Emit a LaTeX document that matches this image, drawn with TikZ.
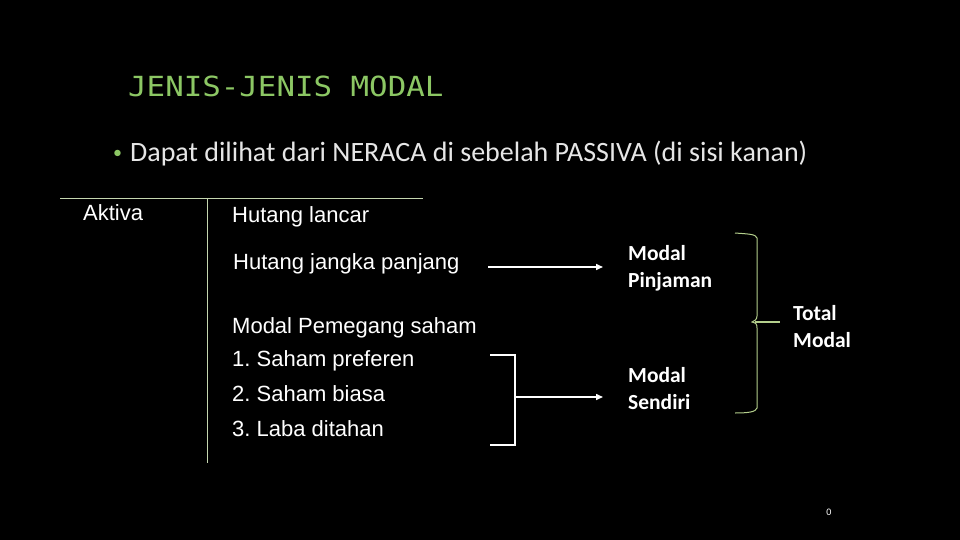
\documentclass[tikz,border=0pt]{standalone}
\usepackage{fontspec}
\setmainfont{Liberation Sans}
\newfontfamily\monof{DejaVu Sans Mono}
\newfontfamily\calf{Carlito}
\usetikzlibrary{arrows.meta}
\definecolor{titlegreen}{HTML}{8CC764}
\definecolor{linegreen}{HTML}{C5D6B0}
\definecolor{bracegreen}{HTML}{B4CF8C}
\definecolor{bodytext}{HTML}{E6E6E6}
\tikzset{
  lbl/.style={anchor=base west, inner sep=0pt, text=white, font=\fontsize{22}{26}\selectfont},
  cal/.style={anchor=base west, inner sep=0pt, text=white, font=\calf\bfseries\fontsize{21.5}{27}\selectfont, align=left},
  conn/.style={draw=white, line width=1.5pt, -{Triangle[length=7pt,width=6pt]}},
  frame/.style={draw=linegreen, line width=0.9pt},
  bracket/.style={draw=white, line width=1.2pt},
}
\frenchspacing
\begin{document}
\begin{tikzpicture}[x=1pt,y=-1pt]
\fill[black] (0,0) rectangle (960,540);
\useasboundingbox (0,0) rectangle (960,540);
% title
\node[anchor=base west, inner sep=0pt, text=titlegreen, font=\monof\fontsize{30.8}{32}\selectfont] (title) at (128,97) {\scalebox{1}[0.9]{JENIS-JENIS MODAL}};
% bullet
\node[anchor=base west, inner sep=0pt, text=bodytext, font=\calf\fontsize{28}{32}\selectfont] (bullet) at (113,161) {\textcolor{titlegreen}{\raisebox{2pt}{\fontsize{18}{18}\selectfont\textbullet}}\hspace{8pt}Dapat dilihat dari NERACA di sebelah PASSIVA (di sisi kanan)};
% T frame
\coordinate (hl) at (60,198);
\coordinate (hr) at (423,198);
\coordinate (vt) at (207,198);
\coordinate (vb) at (207,463);
\draw[frame] (hl) -- (hr);
\draw[frame] (vt) -- (vb);
% left and right column labels
\node[lbl] (aktiva) at (83,220) {Aktiva};
\node[lbl] (hl1) at (232,222) {Hutang lancar};
\node[lbl] (hjp) at (233,269) {Hutang jangka panjang};
\node[lbl] (mps) at (232,333) {Modal Pemegang saham};
\node[lbl] (s1) at (232,366) {1. Saham preferen};
\node[lbl] (s2) at (232,401) {2. Saham biasa};
\node[lbl] (s3) at (232,436) {3. Laba ditahan};
% right labels
\node[cal] (mpin) at (628,287) {Modal\\Pinjaman};
\node[cal] (msen) at (628,409) {Modal\\Sendiri};
\node[cal] (tot) at (793,347) {Total\\Modal};
% arrows
\coordinate (a1s) at (488,267);
\coordinate (a1e) at (603,267);
\draw[conn] (a1s) -- (a1e);
\coordinate (bt) at (490,355);
\coordinate (bb) at (490,445);
\coordinate (bm) at (514,397);
\coordinate (a2e) at (603,397);
\draw[bracket] (bt) -| (515,445) -- (bb);
\draw[conn] (bm) -- (a2e);
% curly brace
\coordinate (ct) at (735,233);
\coordinate (cb) at (735,413);
\coordinate (tip) at (780,322);
\draw[draw=bracegreen, line width=1pt] (ct) .. controls (748,234) and (756,234) .. (757,238) -- (757,316) .. controls (757,320) and (754,321) .. (752,322) .. controls (756,323) and (757,324) .. (757,328) -- (757,408) .. controls (756,412) and (748,413) .. (cb);
\draw[draw=bracegreen, line width=1.6pt] (755,322) -- (tip);
% page number
\node[anchor=base, inner sep=0pt, text=white, font=\calf\fontsize{10}{10}\selectfont] (pn) at (829,515) {0};
\end{tikzpicture}
\end{document}
